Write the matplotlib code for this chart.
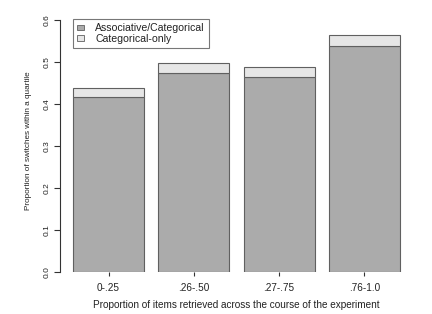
import matplotlib
matplotlib.use("Agg")
import matplotlib.pyplot as plt
from matplotlib.patches import Patch

plt.rcParams["font.family"] = ["Liberation Sans", "DejaVu Sans"]

# quartiles of the experiment and the stacked proportions per quartile
quartiles = ["0-.25", ".26-.50", ".27-.75", ".76-1.0"]
assoc_categorical = [0.416, 0.473, 0.464, 0.539]
categorical_only = [0.023, 0.025, 0.025, 0.026]
series_names = ["Associative/Categorical", "Categorical-only"]
y_ticks = [0.0, 0.1, 0.2, 0.3, 0.4, 0.5, 0.6]

DARK = "#ababab"
LIGHT = "#e6e6e6"
EDGE = "#606060"
TEXT = "#222222"

W, H = 432, 314
fig = plt.figure(figsize=(W / 100, H / 100), dpi=100)
# axes placed in pixel terms to mimic the R barplot region
left, right, bottom, top = 60, 413, 272, 10
ax = fig.add_axes([left / W, 1 - bottom / H, (right - left) / W, (bottom - top) / H])

# R-style bar positions: width 1, space 0.2
centers = [0.7 + 1.2 * i for i in range(len(quartiles))]
ax.bar(centers, assoc_categorical, width=1.0, color=DARK, edgecolor=EDGE, linewidth=0.8)
ax.bar(centers, categorical_only, width=1.0, bottom=assoc_categorical,
       color=LIGHT, edgecolor=EDGE, linewidth=0.8)

ax.set_xlim(0.016, 4.984)
ax.set_ylim(0, 0.624)

for s in ["top", "right", "bottom"]:
    ax.spines[s].set_visible(False)
ax.spines["left"].set_bounds(0, 0.6)
ax.spines["left"].set_color("#333333")
ax.spines["left"].set_linewidth(0.8)

ax.set_yticks(y_ticks)
ax.set_yticklabels([f"{v:.1f}" for v in y_ticks], rotation=90, va="center",
                   fontsize=6, color=TEXT)
ax.tick_params(axis="y", length=4, width=0.8, color="#333333", pad=3)

ax.set_xticks(centers)
ax.set_xticklabels(quartiles, fontsize=7.2, color=TEXT)
ax.tick_params(axis="x", length=3, width=0.8, color="#333333", pad=5)

ax.set_xlabel("Proportion of items retrieved across the course of the experiment",
              fontsize=7.2, color=TEXT, labelpad=5)
ax.set_ylabel("Proportion of switches within a quartile", fontsize=5.9,
              color=TEXT, labelpad=8)

handles = [Patch(facecolor=DARK, edgecolor=EDGE, linewidth=0.6),
           Patch(facecolor=LIGHT, edgecolor=EDGE, linewidth=0.6)]
leg = ax.legend(handles, series_names, loc="upper left",
                bbox_to_anchor=(73 / W, 1 - 19 / H), bbox_transform=fig.transFigure,
                fontsize=7.6, frameon=True, fancybox=False, borderaxespad=0,
                handlelength=0.6, handleheight=0.45, handletextpad=1.1,
                borderpad=0.4, labelspacing=0.05)
leg.get_frame().set_edgecolor("#555555")
leg.get_frame().set_linewidth(0.8)
for t in leg.get_texts():
    t.set_color(TEXT)

fig.savefig("out.png", dpi=100)
